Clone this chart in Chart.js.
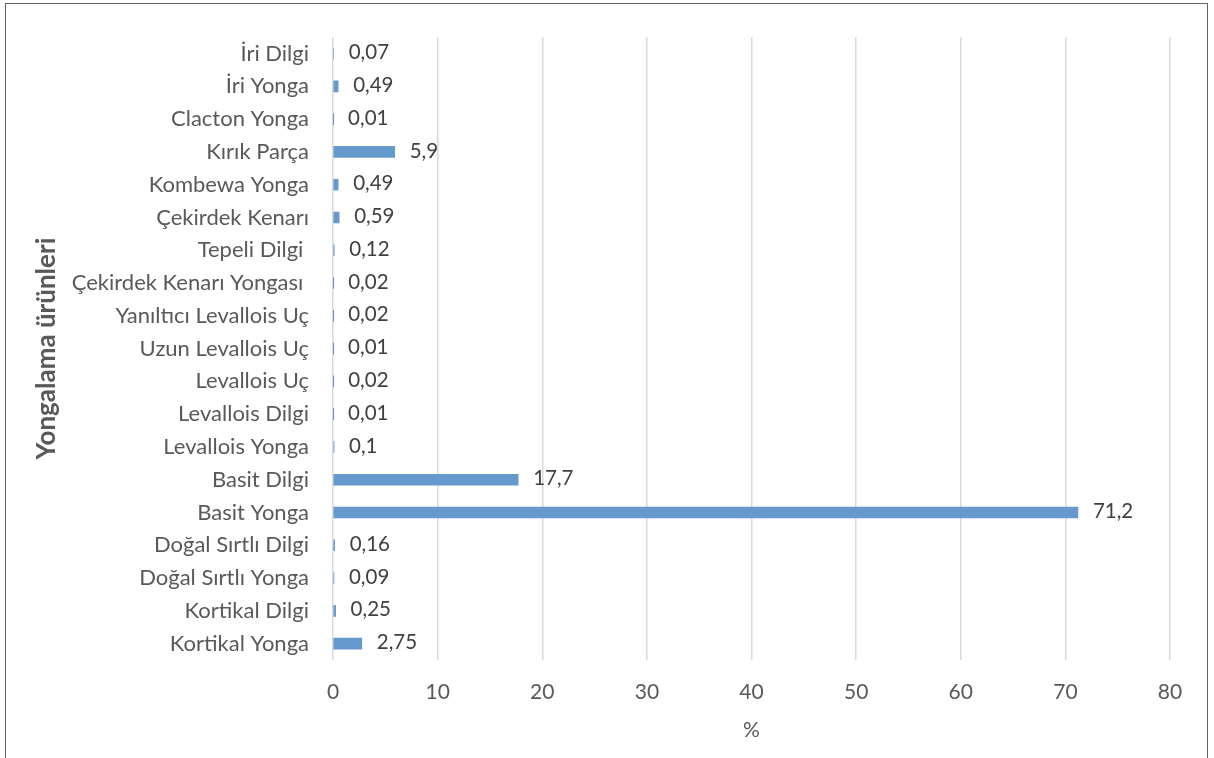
<!DOCTYPE html>
<html>
<head>
<meta charset="utf-8">
<script src="https://cdn.jsdelivr.net/npm/chart.js@4"></script>
<style>
  body { margin: 0; background: #fff; }
  #wrap { position: relative; width: 1214px; height: 758px; overflow: hidden; }
  #frame { position: absolute; left: 5px; top: 3px; width: 1201px; height: 800px; border: 1.5px solid #666; pointer-events: none; }
</style>
</head>
<body>
<div id="wrap">
  <canvas id="myChart" width="1214" height="758"></canvas>
  <div id="frame"></div>
</div>
<script>
// kategoriler (yukaridan asagiya)
var kategoriler = ['İri Dilgi', 'İri Yonga', 'Clacton Yonga', 'Kırık Parça', 'Kombewa Yonga',
  'Çekirdek Kenarı', 'Tepeli Dilgi ', 'Çekirdek Kenarı Yongası ', 'Yanıltıcı Levallois Uç',
  'Uzun Levallois Uç', 'Levallois Uç', 'Levallois Dilgi', 'Levallois Yonga', 'Basit Dilgi',
  'Basit Yonga', 'Doğal Sırtlı Dilgi', 'Doğal Sırtlı Yonga', 'Kortikal Dilgi', 'Kortikal Yonga'];
var yuzdeler = [0.07, 0.49, 0.01, 5.9, 0.49, 0.59, 0.12, 0.02, 0.02, 0.01, 0.02, 0.01, 0.1,
  17.7, 71.2, 0.16, 0.09, 0.25, 2.75];
var xMin = 0, xMax = 80, xStep = 10;

var yaziTipi = 'Lato, "Open Sans", sans-serif';

// bar sonuna deger yaz
var degerEtiketi = {
  id: 'degerEtiketi',
  afterDatasetsDraw: function (chart) {
    var ctx = chart.ctx;
    var meta = chart.getDatasetMeta(0);
    ctx.save();
    ctx.font = '20.5px ' + yaziTipi;
    ctx.fillStyle = '#404040';
    ctx.textAlign = 'left';
    ctx.textBaseline = 'middle';
    meta.data.forEach(function (bar, i) {
      var txt = String(yuzdeler[i]).replace('.', ',');
      ctx.fillText(txt, bar.x + 15, bar.y - 1);
    });
    ctx.restore();
  }
};

var ctx = document.getElementById('myChart');
var barChart = new Chart(ctx, {
  type: 'bar',
  data: {
    labels: kategoriler,
    datasets: [{
      data: yuzdeler,
      backgroundColor: '#6699cd',
      barThickness: 11
    }]
  },
  options: {
    indexAxis: 'y',
    responsive: false,
    animation: false,
    layout: { padding: { top: 34, right: 44, left: 0, bottom: 0 } },
    plugins: {
      legend: { display: false },
      tooltip: { enabled: false }
    },
    scales: {
      x: {
        min: xMin,
        max: xMax,
        ticks: {
          stepSize: xStep,
          padding: 20,
          color: '#595959',
          font: { family: yaziTipi, size: 21 }
        },
        grid: { color: '#d9d9d9', lineWidth: 1.5, drawTicks: false },
        border: { display: false },
        title: {
          display: true,
          text: '%',
          color: '#595959',
          font: { family: yaziTipi, size: 21 },
          padding: { top: 0, bottom: 15 }
        },
        afterFit: function (s) { s.height = 758 - 660; }
      },
      y: {
        ticks: {
          padding: 24,
          autoSkip: false,
          color: '#595959',
          font: { family: yaziTipi, size: 22 }
        },
        grid: { display: false, drawTicks: false },
        border: { display: false },
        title: {
          display: true,
          text: 'Yongalama ürünleri',
          color: '#595959',
          font: { family: yaziTipi, size: 26, weight: 'bold' },
          padding: { top: 31, bottom: 0 }
        },
        afterFit: function (s) { s.width = 333; }
      }
    }
  },
  plugins: [degerEtiketi]
});
</script>
</body>
</html>
